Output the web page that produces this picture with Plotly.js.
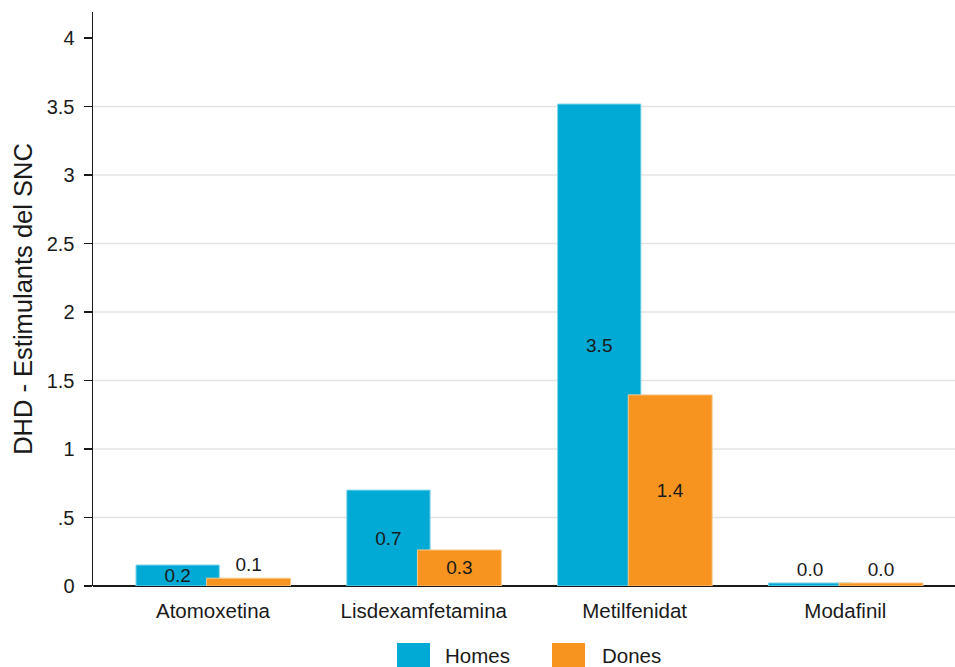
<!DOCTYPE html>
<html>
<head>
<meta charset="utf-8">
<script src="https://cdn.plot.ly/plotly-3.0.1.min.js"></script>
<style>html,body{margin:0;padding:0;background:#fff;}#chart{width:955px;height:667px;}</style>
</head>
<body>
<div id="chart"></div>
<script>
// ---- data ----
const categories = ['Atomoxetina', 'Lisdexamfetamina', 'Metilfenidat', 'Modafinil'];
const homesValues = [0.153, 0.700, 3.518, 0.022];
const donesValues = [0.057, 0.263, 1.395, 0.022];
const seriesNames = ['Homes', 'Dones'];
const yTickVals = [0, 0.5, 1, 1.5, 2, 2.5, 3, 3.5, 4];
const yTickText = ['0', '.5', '1', '1.5', '2', '2.5', '3', '3.5', '4'];
const gridVals = [0.5, 1, 1.5, 2, 2.5, 3, 3.5];

// ---- style ----
const colors = ['#00AAD4', '#F7941F'];
const font = 'Liberation Sans, Arial, sans-serif';
const x = categories.map((c, i) => i);

function labelPositions(vals) {
  return vals.map(v => (v < 0.1 ? 'outside' : 'inside'));
}

const txtFont = {family: font, size: 19, color: '#1a1a1a'};
const traces = [
  {
    type: 'bar', name: seriesNames[0], x: x, y: homesValues,
    width: 0.395, offset: -0.365,
    marker: {color: colors[0], line: {color: '#7fd4ea', width: 1}},
    texttemplate: '%{y:.1f}', textposition: labelPositions(homesValues),
    constraintext: 'none', insidetextanchor: 'middle', cliponaxis: false,
    textfont: txtFont, insidetextfont: txtFont, outsidetextfont: txtFont,
    hoverinfo: 'skip', showlegend: false
  },
  {
    type: 'bar', name: seriesNames[1], x: x, y: donesValues,
    width: 0.398, offset: -0.03,
    marker: {color: colors[1], line: {color: '#fbc98f', width: 1}},
    texttemplate: '%{y:.1f}', textposition: labelPositions(donesValues),
    constraintext: 'none', insidetextanchor: 'middle', cliponaxis: false,
    textfont: txtFont, insidetextfont: txtFont, outsidetextfont: txtFont,
    hoverinfo: 'skip', showlegend: false
  }
];

const shapes = gridVals.map(v => ({
  type: 'line', xref: 'paper', yref: 'y', x0: 0, x1: 1, y0: v, y1: v,
  line: {color: '#e3e3e3', width: 1.5}, layer: 'below'
}));

// custom legend (bottom centre)
const legendX = [0.3527, 0.5325];
const legendTextX = [0.4060, 0.5882];
const annotations = [];
seriesNames.forEach((n, i) => {
  shapes.push({
    type: 'rect', xref: 'paper', yref: 'paper',
    x0: legendX[i], x1: legendX[i] + 0.0383, y0: -0.0993, y1: -0.18,
    fillcolor: colors[i], line: {width: 0}
  });
  annotations.push({
    xref: 'paper', yref: 'paper', x: legendTextX[i], y: -0.1215,
    xanchor: 'left', yanchor: 'middle', showarrow: false, text: n,
    font: {family: font, size: 20.5, color: '#1a1a1a'}
  });
});

const layout = {
  width: 955, height: 667,
  margin: {l: 93, r: 0, t: 12, b: 81},
  paper_bgcolor: '#ffffff', plot_bgcolor: '#ffffff',
  barmode: 'overlay',
  showlegend: false,
  font: {family: font, size: 20, color: '#1a1a1a'},
  xaxis: {
    range: [-0.569, 3.52],
    tickvals: x, ticktext: categories,
    ticks: 'outside', ticklen: 6, tickcolor: 'rgba(0,0,0,0)',
    showgrid: false, zeroline: false,
    showline: false,
    tickfont: {family: font, size: 20.5, color: '#1a1a1a'},
    fixedrange: true
  },
  yaxis: {
    range: [0, 4.19],
    tickvals: yTickVals, ticktext: yTickText,
    ticks: 'outside', ticklen: 8, tickcolor: '#1a1a1a', tickwidth: 1.3,
    ticklabelstandoff: 5,
    showgrid: false, zeroline: true, zerolinecolor: '#1a1a1a', zerolinewidth: 1.5,
    showline: true, linecolor: '#1a1a1a', linewidth: 1.5,
    tickfont: {family: font, size: 20, color: '#1a1a1a'},
    title: {text: 'DHD - Estimulants del SNC', standoff: 7,
            font: {family: font, size: 25.5, color: '#1a1a1a'}},
    fixedrange: true
  },
  shapes: shapes,
  annotations: annotations
};

Plotly.newPlot('chart', traces, layout, {displayModeBar: false, staticPlot: true});
</script>
</body>
</html>
